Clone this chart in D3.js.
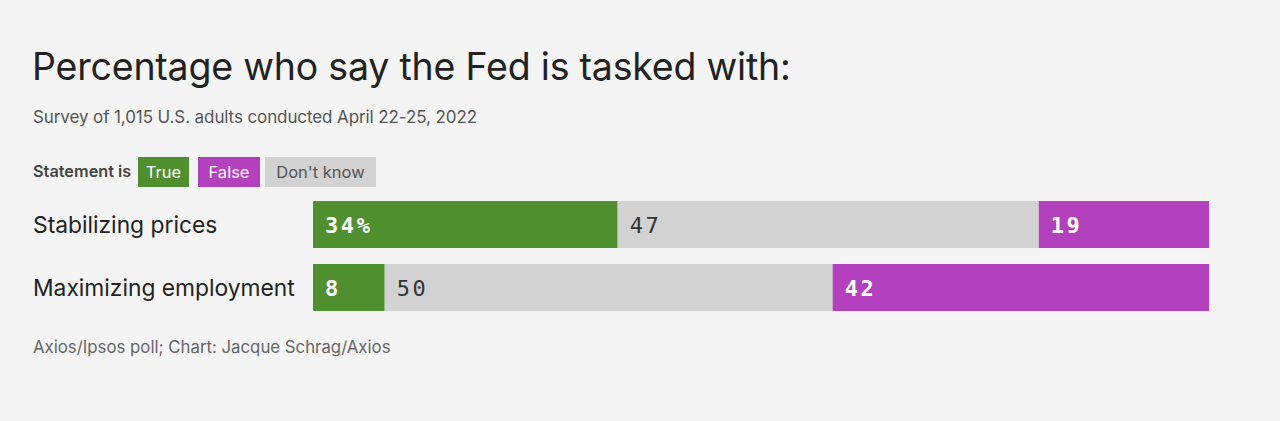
<!DOCTYPE html>
<html><head><meta charset="utf-8">
<script src="https://cdn.jsdelivr.net/npm/d3@7"></script>
<style>
html,body{margin:0;padding:0;background:#f4f4f4;}
svg{display:block;}
</style></head>
<body>
<svg id="chart" width="1280" height="421"></svg>
<script>
const categories = ["Stabilizing prices", "Maximizing employment"];
const trueVals = [34, 8];
const dontKnowVals = [47, 50];
const falseVals = [19, 42];
const seriesNames = ["True", "Don't know", "False"];
const colors = {"True": "#4f8f2f", "False": "#b340bd", "Don't know": "#d2d2d2"};

const svg = d3.select("#chart");
const W = 1280, H = 421;
svg.append("rect").attr("width", W).attr("height", H).attr("fill", "#f4f4f4");

const font = "Inter, 'Liberation Sans', sans-serif";
const mono = "'DejaVu Sans Mono', 'Liberation Mono', monospace";

svg.append("text").attr("x", 32).attr("y", 80)
  .attr("font-family", font).attr("font-size", 37.5).attr("fill", "#222")
  .attr("letter-spacing", "-0.2")
  .text("Percentage who say the Fed is tasked with:");

svg.append("text").attr("x", 33).attr("y", 123)
  .attr("font-family", font).attr("font-size", 17).attr("fill", "#555")
  .attr("letter-spacing", "-0.1")
  .text("Survey of 1,015 U.S. adults conducted April 22-25, 2022");

// legend
svg.append("text").attr("x", 33).attr("y", 177)
  .attr("font-family", font).attr("font-size", 16.3).attr("font-weight", 600).attr("fill", "#444")
  .text("Statement is");
const legendBoxes = [
  {name: "True", x: 138, w: 51, tc: "#fff"},
  {name: "False", x: 198, w: 62, tc: "#fff"},
  {name: "Don't know", x: 265, w: 111, tc: "#555"}
];
legendBoxes.forEach(d => {
  svg.append("rect").attr("x", d.x).attr("y", 157).attr("width", d.w).attr("height", 30)
    .attr("fill", colors[d.name]);
  svg.append("text").attr("x", d.x + d.w / 2).attr("y", 177.5).attr("text-anchor", "middle")
    .attr("font-family", font).attr("font-size", 16.5).attr("fill", d.tc)
    .text(d.name);
});

// bars
const x = d3.scaleLinear().domain([0, 100]).range([313, 1209]);
const y = d3.scaleBand().domain(categories).range([193, 319]).paddingInner(0.254).paddingOuter(0.127);

const rows = categories.map((c, i) => ({cat: c, "True": trueVals[i], "Don't know": dontKnowVals[i], "False": falseVals[i]}));
const stack = d3.stack().keys(seriesNames)(rows);

stack.forEach(layer => {
  const key = layer.key;
  const g = svg.append("g");
  g.selectAll("rect").data(layer).join("rect")
    .attr("x", d => x(d[0])).attr("y", d => y(d.data.cat))
    .attr("width", d => x(d[1]) - x(d[0])).attr("height", y.bandwidth())
    .attr("fill", colors[key]);
  g.selectAll("text").data(layer).join("text")
    .attr("x", d => x(d[0]) + 12).attr("y", d => y(d.data.cat) + y.bandwidth() / 2 + 8)
    .attr("font-family", mono).attr("font-size", 22)
    .attr("letter-spacing", "2.6")
    .attr("font-weight", key === "Don't know" ? 400 : 700)
    .attr("fill", key === "Don't know" ? "#333" : "#fff")
    .text((d, i) => (key === "True" && i === 0) ? d.data[key] + "%" : d.data[key]);
});

// row labels
svg.append("g").selectAll("text").data(categories).join("text")
  .attr("x", 33).attr("y", d => y(d) + y.bandwidth() / 2 + 8)
  .attr("font-family", font).attr("font-size", 22.8).attr("fill", "#222")
  .text(d => d);

svg.append("text").attr("x", 33).attr("y", 353)
  .attr("font-family", font).attr("font-size", 16.8).attr("fill", "#666")
  .text("Axios/Ipsos poll; Chart: Jacque Schrag/Axios");
</script>
</body></html>
